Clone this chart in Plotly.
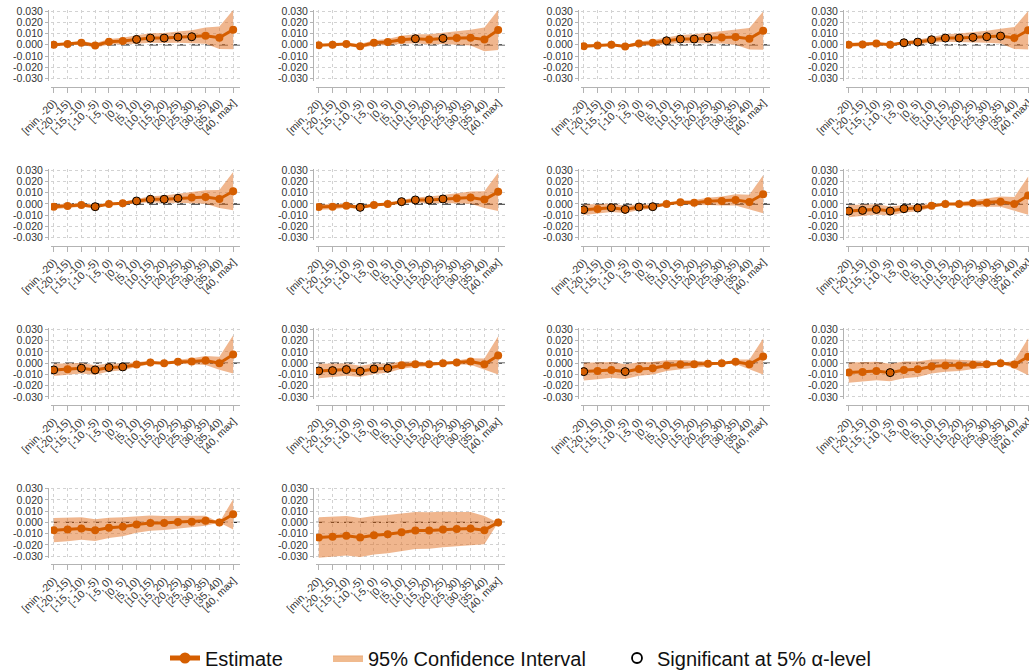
import plotly.graph_objects as go

categories = ["[min, -20)", "[-20, -15)", "[-15, -10)", "[-10, -5)", "[-5, 0)", "[0, 5)",
              "[5, 10)", "[10, 15)", "[15, 20)", "[20, 25)", "[25, 30)", "[30, 35)",
              "[35, 40)", "[40, max]"]

y_tick_vals = [-0.03, -0.02, -0.01, 0.0, 0.01, 0.02, 0.03]
y_tick_text = ["-0.030", "-0.020", "-0.010", "0.000", "0.010", "0.020", "0.030"]

# estimates per panel
est_p1 = [0.0, 0.0006, 0.0018, -0.0006, 0.0027, 0.0033, 0.0048, 0.0060, 0.0060, 0.0069, 0.0072, 0.0081, 0.0063, 0.0135]
est_p2 = [-0.0003, 0.0, 0.0006, -0.0012, 0.0018, 0.0024, 0.0045, 0.0054, 0.0048, 0.0057, 0.0060, 0.0063, 0.0048, 0.0132]
est_p3 = [-0.0012, -0.0006, 0.0, -0.0015, 0.0012, 0.0018, 0.0036, 0.0051, 0.0051, 0.0060, 0.0066, 0.0069, 0.0054, 0.0126]
est_p4 = [0.0, 0.0003, 0.0012, 0.0, 0.0018, 0.0024, 0.0045, 0.0060, 0.0060, 0.0066, 0.0072, 0.0078, 0.0060, 0.0130]
est_p5 = [-0.0024, -0.0018, -0.0009, -0.0024, 0.0, 0.0006, 0.0027, 0.0042, 0.0042, 0.0051, 0.0057, 0.0063, 0.0045, 0.0114]
est_p6 = [-0.0027, -0.0024, -0.0015, -0.0030, -0.0009, 0.0, 0.0021, 0.0036, 0.0036, 0.0045, 0.0051, 0.0057, 0.0039, 0.0108]
est_p7 = [-0.0051, -0.0045, -0.0033, -0.0048, -0.0027, -0.0024, 0.0, 0.0015, 0.0012, 0.0024, 0.0027, 0.0036, 0.0018, 0.0087]
est_p8 = [-0.0063, -0.0057, -0.0048, -0.0063, -0.0042, -0.0036, -0.0015, 0.0, 0.0, 0.0009, 0.0012, 0.0021, 0.0, 0.0075]
est_p9 = [-0.0060, -0.0054, -0.0045, -0.0060, -0.0039, -0.0033, -0.0012, 0.0006, 0.0, 0.0012, 0.0015, 0.0024, 0.0, 0.0078]
est_p10 = [-0.0069, -0.0066, -0.0057, -0.0072, -0.0051, -0.0045, -0.0018, -0.0009, -0.0009, 0.0, 0.0006, 0.0015, -0.0009, 0.0069]
est_p11 = [-0.0075, -0.0069, -0.0060, -0.0075, -0.0051, -0.0045, -0.0021, -0.0012, -0.0009, -0.0006, 0.0, 0.0012, -0.0009, 0.0060]
est_p12 = [-0.0084, -0.0078, -0.0069, -0.0084, -0.0060, -0.0054, -0.0030, -0.0021, -0.0021, -0.0015, -0.0009, 0.0, -0.0012, 0.0057]
est_p13 = [-0.0069, -0.0063, -0.0054, -0.0069, -0.0048, -0.0039, -0.0018, -0.0006, -0.0006, 0.0003, 0.0006, 0.0015, 0.0, 0.0072]
est_p14 = [-0.0135, -0.0129, -0.0120, -0.0135, -0.0114, -0.0105, -0.0087, -0.0072, -0.0072, -0.0063, -0.0060, -0.0054, -0.0069, 0.0]

# 95% CI half-widths per panel
hw_p1 = [0.0, 0.0012, 0.0016, 0.0020, 0.0025, 0.0030, 0.0038, 0.0042, 0.0045, 0.0050, 0.0058, 0.0072, 0.0100, 0.0175]
hw_p2 = [0.0012, 0.0, 0.0012, 0.0018, 0.0023, 0.0028, 0.0035, 0.0040, 0.0045, 0.0050, 0.0058, 0.0070, 0.0105, 0.0178]
hw_p3 = [0.0015, 0.0012, 0.0, 0.0013, 0.0018, 0.0024, 0.0030, 0.0036, 0.0042, 0.0048, 0.0055, 0.0068, 0.0095, 0.0170]
hw_p4 = [0.0018, 0.0015, 0.0012, 0.0, 0.0013, 0.0020, 0.0027, 0.0034, 0.0040, 0.0046, 0.0054, 0.0066, 0.0098, 0.0172]
hw_p5 = [0.0022, 0.0018, 0.0015, 0.0012, 0.0, 0.0013, 0.0020, 0.0027, 0.0034, 0.0040, 0.0048, 0.0060, 0.0080, 0.0170]
hw_p6 = [0.0025, 0.0022, 0.0018, 0.0015, 0.0012, 0.0, 0.0014, 0.0022, 0.0030, 0.0036, 0.0044, 0.0055, 0.0075, 0.0170]
hw_p7 = [0.0048, 0.0042, 0.0038, 0.0032, 0.0026, 0.0018, 0.0, 0.0016, 0.0024, 0.0032, 0.0040, 0.0050, 0.0065, 0.0170]
hw_p8 = [0.0055, 0.0050, 0.0045, 0.0040, 0.0034, 0.0028, 0.0018, 0.0, 0.0018, 0.0027, 0.0036, 0.0046, 0.0062, 0.0170]
hw_p9 = [0.0055, 0.0050, 0.0046, 0.0042, 0.0036, 0.0030, 0.0022, 0.0015, 0.0, 0.0018, 0.0028, 0.0040, 0.0058, 0.0170]
hw_p10 = [0.0065, 0.0060, 0.0055, 0.0050, 0.0045, 0.0040, 0.0032, 0.0025, 0.0018, 0.0, 0.0018, 0.0030, 0.0050, 0.0170]
hw_p11 = [0.0080, 0.0075, 0.0070, 0.0065, 0.0060, 0.0055, 0.0048, 0.0040, 0.0032, 0.0022, 0.0, 0.0020, 0.0042, 0.0160]
hw_p12 = [0.0090, 0.0086, 0.0082, 0.0078, 0.0074, 0.0070, 0.0062, 0.0055, 0.0048, 0.0040, 0.0028, 0.0, 0.0035, 0.0165]
hw_p13 = [0.0108, 0.0104, 0.0100, 0.0096, 0.0090, 0.0085, 0.0075, 0.0068, 0.0062, 0.0056, 0.0050, 0.0045, 0.0, 0.0135]
hw_p14 = [0.0180, 0.0178, 0.0176, 0.0174, 0.0172, 0.0170, 0.0168, 0.0165, 0.0162, 0.0158, 0.0152, 0.0146, 0.0125, 0.0]

# indices of estimates significant at the 5% level
sig_p1 = [6, 7, 8, 9, 10]
sig_p2 = [7, 9]
sig_p3 = [6, 7, 8, 9]
sig_p4 = [4, 5, 6, 7, 8, 9, 10, 11]
sig_p5 = [3, 6, 7, 8, 9]
sig_p6 = [3, 6, 7, 8, 9]
sig_p7 = [0, 2, 3, 4, 5]
sig_p8 = [0, 1, 2, 3, 4, 5]
sig_p9 = [0, 2, 3, 4, 5]
sig_p10 = [0, 1, 2, 3, 4, 5]
sig_p11 = [0, 3]
sig_p12 = [3]
sig_p13 = []
sig_p14 = []

ests = [est_p1, est_p2, est_p3, est_p4, est_p5, est_p6, est_p7, est_p8, est_p9, est_p10, est_p11, est_p12, est_p13, est_p14]
hws = [hw_p1, hw_p2, hw_p3, hw_p4, hw_p5, hw_p6, hw_p7, hw_p8, hw_p9, hw_p10, hw_p11, hw_p12, hw_p13, hw_p14]
sigs = [sig_p1, sig_p2, sig_p3, sig_p4, sig_p5, sig_p6, sig_p7, sig_p8, sig_p9, sig_p10, sig_p11, sig_p12, sig_p13, sig_p14]

W, H = 1029, 670
ORANGE = "#D55E00"
BAND = "rgba(225,110,30,0.5)"
FONT = "Arial, Liberation Sans, sans-serif"

fig = go.Figure()
layout_axes = {}
shapes = []
xs = list(range(len(categories)))

for i in range(14):
    n = i + 1
    r, c = divmod(i, 4)
    xname = "x" if n == 1 else f"x{n}"
    yname = "y" if n == 1 else f"y{n}"
    est, hw, sig = ests[i], hws[i], sigs[i]
    upper = [e + h for e, h in zip(est, hw)]
    lower = [e - h for e, h in zip(est, hw)]

    fig.add_trace(go.Scatter(x=xs + xs[::-1], y=upper + lower[::-1], fill="toself",
                             fillcolor=BAND, line=dict(width=0), mode="lines",
                             hoverinfo="skip", showlegend=False, xaxis=xname, yaxis=yname))
    fig.add_trace(go.Scatter(x=xs, y=est, mode="lines+markers",
                             line=dict(color=ORANGE, width=3),
                             marker=dict(color=ORANGE, size=8),
                             showlegend=False, xaxis=xname, yaxis=yname))
    if sig:
        fig.add_trace(go.Scatter(x=[xs[k] for k in sig], y=[est[k] for k in sig], mode="markers",
                                 marker=dict(color=ORANGE, size=8, line=dict(color="black", width=1)),
                                 showlegend=False, xaxis=xname, yaxis=yname))

    left = 51 + 265 * c
    right = min(left + 189, W)
    top = 10 + 159.2 * r
    bottom = 80.7 + 159.2 * r
    xr_end = -0.2 + (right - left) / 13.8

    layout_axes["xaxis" if n == 1 else f"xaxis{n}"] = dict(
        domain=[left / W, right / W], range=[-0.2, xr_end], automargin=False,
        anchor="free", position=1 - (bottom + 6) / H,
        tickmode="array", tickvals=xs, ticktext=categories, tickangle=-45,
        ticklabeloverflow="allow",
        showline=True, linecolor="#b3b3b3", linewidth=1,
        ticks="outside", ticklen=5, tickcolor="#b3b3b3",
        showgrid=True, gridcolor="#d2d2d2", griddash="dot", gridwidth=1,
        zeroline=False, tickfont=dict(size=10.5, color="#333", family=FONT),
    )
    layout_axes["yaxis" if n == 1 else f"yaxis{n}"] = dict(
        domain=[1 - bottom / H, 1 - top / H], range=[-0.032, 0.031], automargin=False,
        anchor="free", position=(left - 3) / W,
        tickmode="array", tickvals=y_tick_vals, ticktext=y_tick_text,
        showline=True, linecolor="#b3b3b3", linewidth=1,
        ticks="outside", ticklen=3, tickcolor="#b3b3b3",
        showgrid=True, gridcolor="#d2d2d2", griddash="dot", gridwidth=1,
        zeroline=False, tickfont=dict(size=10.5, color="#333", family=FONT),
    )
    shapes.append(dict(type="line", xref=f"{xname} domain", yref=yname,
                       x0=0, x1=1, y0=0, y1=0, layer="below",
                       line=dict(color="#2a2a2a", width=1.3, dash="9px,5px")))

# legend entries
fig.add_trace(go.Scatter(x=[None], y=[None], mode="lines+markers", name="Estimate",
                         line=dict(color=ORANGE, width=5), marker=dict(color=ORANGE, size=11),
                         legend="legend"))
fig.add_trace(go.Scatter(x=[None, None, None], y=[None, None, None], fill="toself", name="95% Confidence Interval",
                         fillcolor="#F0BA8E", line=dict(color="#E9A877", width=1), mode="lines",
                         legend="legend2"))
fig.add_trace(go.Scatter(x=[None], y=[None], mode="markers", name="Significant at 5% α-level",
                         marker=dict(color="white", size=10, line=dict(color="black", width=1.8)),
                         legend="legend3"))

leg_common = dict(orientation="h", yanchor="middle", y=1 - 658 / H, xanchor="left",
                  font=dict(size=20, color="#111", family=FONT), bgcolor="rgba(0,0,0,0)")
fig.update_layout(
    width=W, height=H,
    margin=dict(l=0, r=0, t=0, b=0, autoexpand=False),
    paper_bgcolor="white", plot_bgcolor="white",
    font=dict(family=FONT),
    showlegend=True,
    legend=dict(x=165 / W, **leg_common),
    legend2=dict(x=328 / W, **leg_common),
    legend3=dict(x=617 / W, **leg_common),
    shapes=shapes,
    **layout_axes,
)

fig.write_html("out.html", config={"displayModeBar": False},
               post_script="document.body.style.margin='0';document.body.style.overflow='hidden';")
